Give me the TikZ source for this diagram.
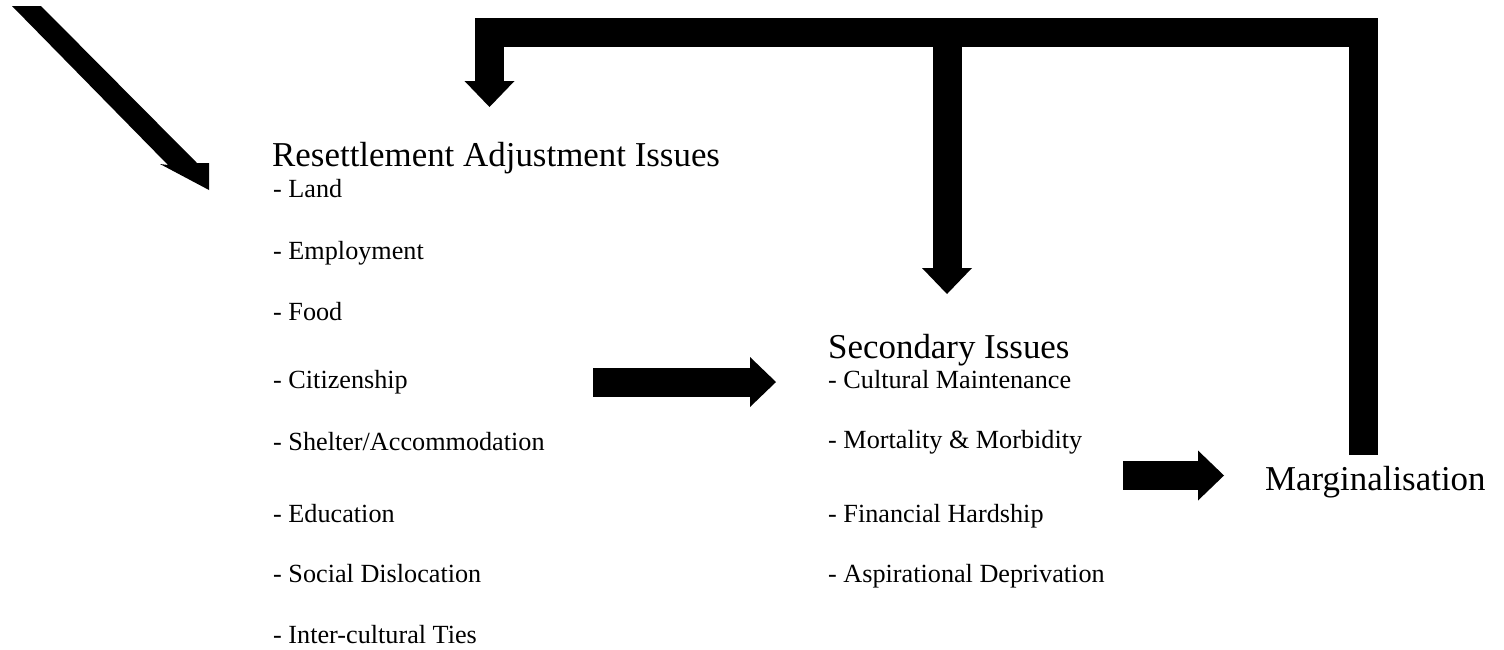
\documentclass[tikz,border=0pt]{standalone}
\usepackage{fontspec}
\setmainfont{Liberation Serif}
\usetikzlibrary{arrows.meta}
\begin{document}
\begin{tikzpicture}[x=1pt,y=-1pt,
  headtext/.style={font=\fontsize{34.9}{40}\selectfont, anchor=base west, inner sep=0pt},
  itemtext/.style={font=\fontsize{26.2}{30}\selectfont, anchor=base west, inner sep=0pt},
  bar/.style={line width=29pt, line join=miter, line cap=butt},
  blockarrow/.style={bar, -{Triangle[length=26pt,width=50pt,line width=0pt]}}]
\useasboundingbox (0,0) rectangle (1504,649);

% texts
\node[headtext] (rai) at (272,166) {Resettlement Adjustment Issues};
\node[itemtext] (land) at (273,197) {- Land};
\node[itemtext] (empl) at (273,259) {- Employment};
\node[itemtext] (food) at (273,320) {- Food};
\node[itemtext] (citi) at (273,388) {- Citizenship};
\node[itemtext] (shel) at (273,450) {- Shelter/Accommodation};
\node[itemtext] (educ) at (273,522) {- Education};
\node[itemtext] (soci) at (273,582) {- Social Dislocation};
\node[itemtext] (inte) at (273,643) {- Inter-cultural Ties};

\node[headtext] (sec) at (828,358) {Secondary Issues};
\node[itemtext] (cult) at (828,388) {- Cultural Maintenance};
\node[itemtext] (mort) at (828,448) {- Mortality \& Morbidity};
\node[itemtext] (fina) at (828,522) {- Financial Hardship};
\node[itemtext] (aspi) at (828,582) {- Aspirational Deprivation};

\node[headtext] (mar) at (1265,490) {Marginalisation};

% arrow coordinates
\coordinate (a1s) at (593,382);
\coordinate (a1e) at (776,382);
\coordinate (a2s) at (1123,475.5);
\coordinate (a2e) at (1224,475.5);
\coordinate (fbS) at (1363,455);
\coordinate (fbTR) at (1363,32);
\coordinate (fbTL) at (489.5,32);
\coordinate (fbL) at (489.5,107);
\coordinate (fbM) at (947,40);
\coordinate (fbMe) at (947,294);

\draw[blockarrow] (a1s) -- (a1e);
\draw[blockarrow] (a2s) -- (a2e);
\draw[blockarrow] (fbS) -- (fbTR) -- (fbTL) -- (fbL);
\draw[blockarrow] (fbM) -- (fbMe);

% diagonal entry arrow (clipped at the page edge)
\fill (12,6) -- (41,6) -- (197,163) -- (209,163) -- (209,190) -- (160,164) -- (168,165) -- cycle;
\end{tikzpicture}
\end{document}
